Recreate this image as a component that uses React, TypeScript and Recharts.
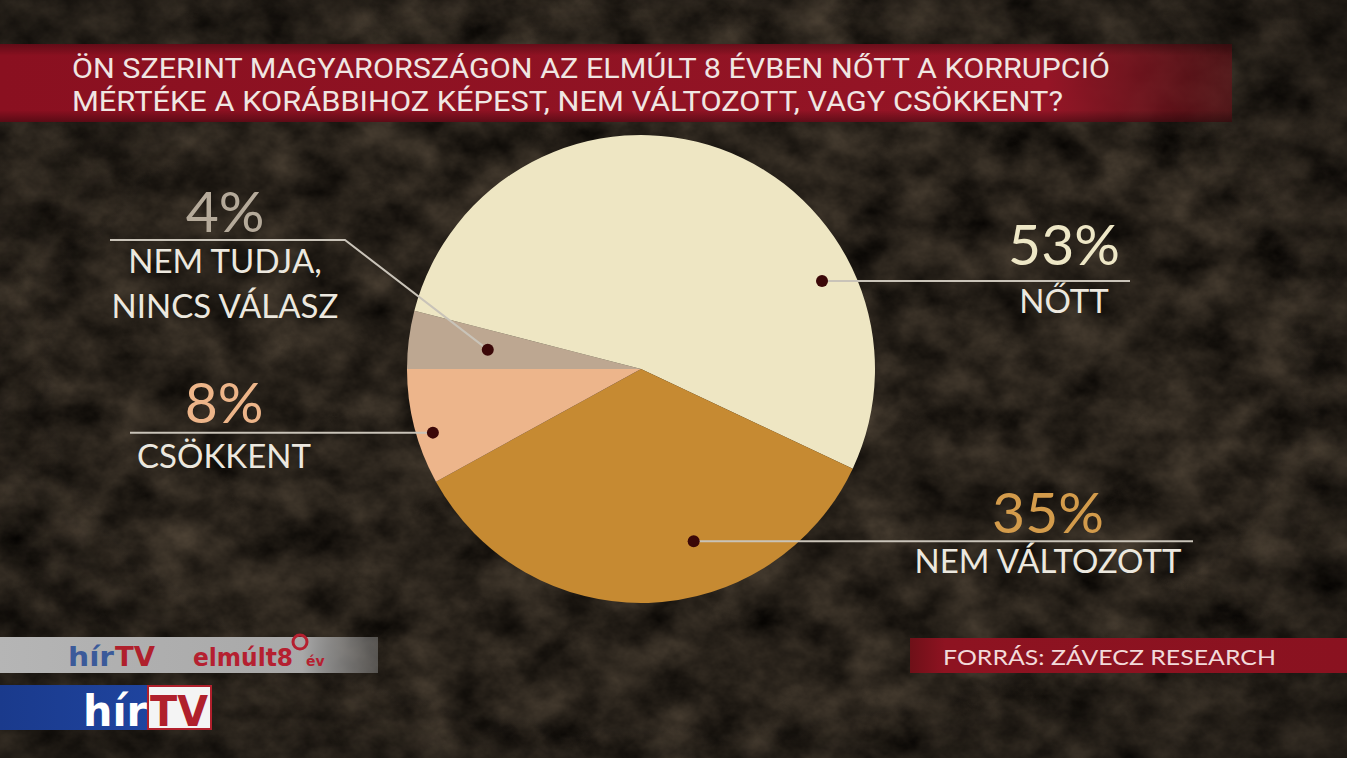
import React from 'react';
import { PieChart, Pie, Cell } from 'recharts';

const categories = ['Nem tudja, nincs válasz', 'Nőtt', 'Nem változott', 'Csökkent'];
const values = [4, 53, 35, 8];
const pctLabels = ['4%', '53%', '35%', '8%'];
const nameLines = [['NEM TUDJA,', 'NINCS VÁLASZ'], ['NŐTT'], ['NEM VÁLTOZOTT'], ['CSÖKKENT']];
const sliceColors = ['#BDA791', '#EEE6C3', '#C68A32', '#EDB58B'];
const pctColors = ['#B5AA9A', '#EEE7C6', '#D39B4B', '#EDB589'];
const titleLines = [
  'ÖN SZERINT MAGYARORSZÁGON AZ ELMÚLT 8 ÉVBEN NŐTT A KORRUPCIÓ',
  'MÉRTÉKE A KORÁBBIHOZ KÉPEST, NEM VÁLTOZOTT, VAGY CSÖKKENT?',
];
const sourceText = 'FORRÁS: ZÁVECZ RESEARCH';

const data = categories.map((name, i) => ({ name, value: values[i] }));

// label placement (relative to pie centre)
const labelLayout = [
  { dA: 0, dR: 0.66, lineY: -129, lineX: -531, elbowX: -296, textX: -416, pctY: -137, nameY: -96, step: 45 },
  { dA: -44.3, dR: 0.86, lineX: 489, textX: 423, pctY: -104, nameY: -56, step: 0 },
  { dA: 15.2, dR: 0.77, lineX: 552, textX: 407, pctY: 164, nameY: 204, step: 0 },
  { dA: 2.6, dR: 0.93, lineX: -511, textX: -417, pctY: 54, nameY: 99, step: 0 },
];

const RAD = Math.PI / 180;
const labelFont = 'Lato, "Open Sans", "DejaVu Sans", sans-serif';

const renderLabel = (props: any) => {
  const { cx, cy, midAngle, outerRadius, index } = props;
  const L = labelLayout[index];
  const a = (midAngle + L.dA) * RAD;
  const r = outerRadius * L.dR;
  const dx = cx + r * Math.cos(a);
  const dy = cy - r * Math.sin(a);
  let points: string;
  if (L.elbowX !== undefined) {
    points = `${cx + L.lineX},${cy + L.lineY} ${cx + L.elbowX},${cy + L.lineY} ${dx},${dy}`;
  } else {
    points = `${dx},${dy} ${cx + L.lineX},${dy}`;
  }
  return (
    <g key={`lbl-${index}`}>
      <polyline points={points} fill="none" stroke="#C9C3B8" strokeWidth={2} />
      <circle cx={dx} cy={dy} r={6} fill="#3B0808" />
      <text x={cx + L.textX} y={cy + L.pctY} textAnchor="middle" fill={pctColors[index]}
        fontFamily={labelFont} fontWeight={400} fontSize={57}>{pctLabels[index]}</text>
      {nameLines[index].map((t, j) => (
        <text key={j} x={cx + L.textX} y={cy + L.nameY + j * L.step} textAnchor="middle" fill="#ECE8DF"
          fontFamily={labelFont} fontWeight={400} fontSize={33}>{t}</text>
      ))}
    </g>
  );
};

export default function App() {
  return (
    <div style={{ position: 'fixed', left: 0, top: 0, width: 1347, height: 758, overflow: 'hidden', background: '#2a241e' }}>
      <svg width={1347} height={758} style={{ position: 'absolute', left: 0, top: 0 }}>
        <defs>
          <filter id="tex" x="0" y="0" width="100%" height="100%" colorInterpolationFilters="sRGB">
            <feTurbulence type="fractalNoise" baseFrequency="0.02 0.025" numOctaves={5} seed={7} />
            <feColorMatrix type="matrix" values="0.32 0 0 0 0.0  0.28 0 0 0 -0.005  0.23 0 0 0 -0.01  0 0 0 0 1" />
          </filter>
          <radialGradient id="vig" cx="50%" cy="50%" r="75%">
            <stop offset="60%" stopColor="#000" stopOpacity={0} />
            <stop offset="100%" stopColor="#000" stopOpacity={0.3} />
          </radialGradient>
        </defs>
        <rect x={0} y={0} width={1347} height={758} filter="url(#tex)" />
        <rect x={0} y={0} width={1347} height={758} fill="url(#vig)" />
      </svg>
      <div style={{ position: 'absolute', left: 0, top: 0 }}>
        <PieChart width={1347} height={758} margin={{ top: 0, right: 0, bottom: 0, left: 0 }}>
          <Pie data={data} dataKey="value" nameKey="name" cx={641} cy={369} outerRadius={234}
            startAngle={180} endAngle={-180} stroke="none" isAnimationActive={false}
            label={renderLabel} labelLine={false}>
            {data.map((d, i) => <Cell key={d.name} fill={sliceColors[i]} />)}
          </Pie>
        </PieChart>
      </div>
      <svg width={1347} height={758} style={{ position: 'absolute', left: 0, top: 0, pointerEvents: 'none' }}>
        <defs>
          <linearGradient id="titleBg" x1="0" y1="0" x2="1" y2="0">
            <stop offset="0%" stopColor="#8A1020" />
            <stop offset="85%" stopColor="#951526" />
            <stop offset="100%" stopColor="#6a1018" stopOpacity={0.6} />
          </linearGradient>
          <linearGradient id="titleV" x1="0" y1="0" x2="0" y2="1">
            <stop offset="0%" stopColor="#000" stopOpacity={0.3} />
            <stop offset="15%" stopColor="#000" stopOpacity={0} />
            <stop offset="85%" stopColor="#000" stopOpacity={0} />
            <stop offset="100%" stopColor="#000" stopOpacity={0.35} />
          </linearGradient>
          <linearGradient id="srcBg" x1="0" y1="0" x2="1" y2="0">
            <stop offset="0%" stopColor="#6e1018" />
            <stop offset="8%" stopColor="#8e1321" />
            <stop offset="100%" stopColor="#8a1220" />
          </linearGradient>
          <linearGradient id="grayBand" x1="0" y1="0" x2="1" y2="0">
            <stop offset="0%" stopColor="#b5b5b5" />
            <stop offset="80%" stopColor="#a8a8a8" />
            <stop offset="100%" stopColor="#8a8a8a" stopOpacity={0.5} />
          </linearGradient>
          <linearGradient id="blueBand" x1="0" y1="0" x2="1" y2="0">
            <stop offset="0%" stopColor="#1a3a8c" />
            <stop offset="100%" stopColor="#2148a6" />
          </linearGradient>
        </defs>
        <rect x={0} y={44} width={1232} height={78} fill="url(#titleBg)" />
        <rect x={0} y={44} width={1232} height={78} fill="url(#titleV)" />
        {titleLines.map((t, i) => (
          <text key={i} x={72} y={78 + i * 33} fill="#F0E6E2" fontFamily='Roboto, "DejaVu Sans", sans-serif'
            fontSize={28} textLength={i === 0 ? 1038 : 991} lengthAdjust="spacingAndGlyphs">{t}</text>
        ))}

        <rect x={910} y={638} width={437} height={35} fill="url(#srcBg)" />
        <text x={943} y={665} fill="#F2DADA" fontFamily={labelFont} fontSize={22} textLength={333}
          lengthAdjust="spacingAndGlyphs">{sourceText}</text>

        <rect x={0} y={637} width={378} height={36} fill="url(#grayBand)" />
        <text x={68} y={666} fontFamily='"DejaVu Sans", sans-serif' fontWeight={700} fontSize={27} fill="#3b5a9a"
          textLength={46} lengthAdjust="spacingAndGlyphs">hír</text>
        <text x={115} y={666} fontFamily='"DejaVu Sans", sans-serif' fontWeight={700} fontSize={27} fill="#b0202c"
          textLength={40} lengthAdjust="spacingAndGlyphs">TV</text>
        <text x={193} y={666} fontFamily='"DejaVu Sans", sans-serif' fontWeight={700} fontSize={24} fill="#b52030"
          textLength={100} lengthAdjust="spacingAndGlyphs">elmúlt8</text>
        <circle cx={300} cy={642} r={7} fill="none" stroke="#b52030" strokeWidth={3} />
        <text x={306} y={666} fontFamily='"DejaVu Sans", sans-serif' fontWeight={700} fontSize={14} fill="#b52030">év</text>

        <rect x={0} y={685} width={210} height={45} fill="url(#blueBand)" />
        <rect x={148} y={686} width={63} height={43} fill="#f4f4f4" stroke="#b0202c" strokeWidth={2} />
        <text x={83} y={726} fontFamily='"DejaVu Sans", sans-serif' fontWeight={700} fontSize={42} fill="#ffffff"
          textLength={64} lengthAdjust="spacingAndGlyphs">hír</text>
        <text x={150} y={726} fontFamily='"DejaVu Sans", sans-serif' fontWeight={700} fontSize={42} fill="#b0202c"
          textLength={58} lengthAdjust="spacingAndGlyphs">TV</text>
      </svg>
    </div>
  );
}
